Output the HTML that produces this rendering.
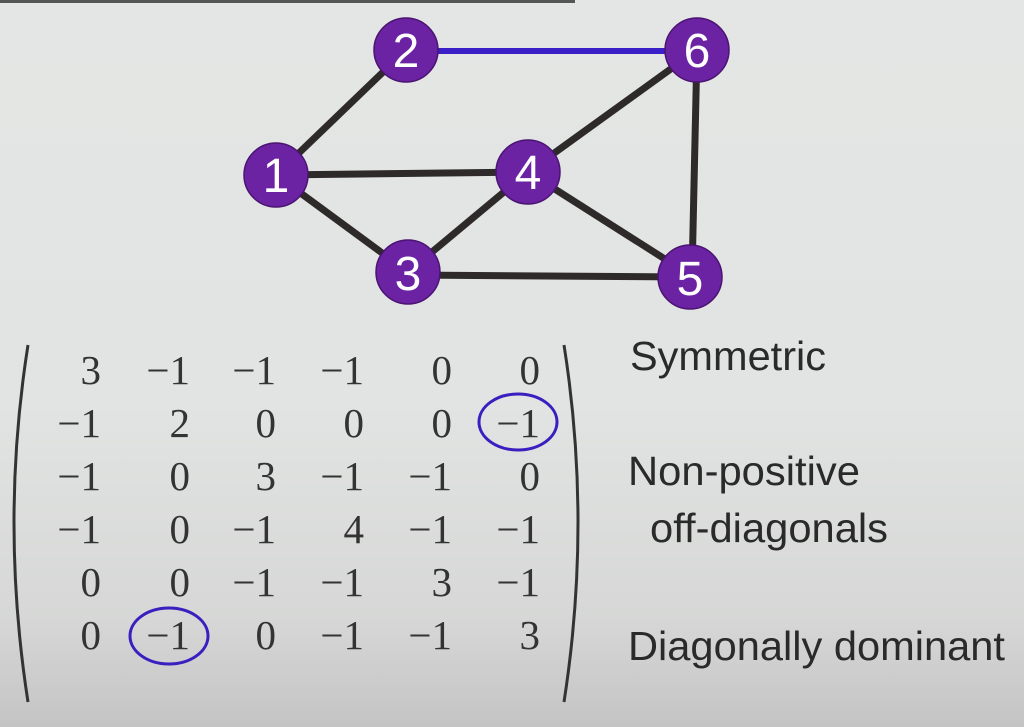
<!DOCTYPE html>
<html><head><style>
body{margin:0;width:1024px;height:727px;overflow:hidden;background:linear-gradient(180deg,#e4e6e5 0%,#e2e4e3 55%,#d6d7d6 85%,#c4c4c4 100%);}
svg{position:absolute;left:0;top:0}
</style></head><body>
<svg width="1024" height="727" viewBox="0 0 1024 727">
<rect x="0" y="0" width="575" height="3" fill="#555"/>
<g stroke="#2e2a2a" stroke-width="7" stroke-linecap="butt">
<line x1="276" y1="175" x2="406" y2="50"/>
<line x1="276" y1="175" x2="528" y2="172"/>
<line x1="276" y1="175" x2="408" y2="272"/>
<line x1="528" y1="172" x2="697" y2="50"/>
<line x1="528" y1="172" x2="408" y2="272"/>
<line x1="528" y1="172" x2="690" y2="275"/>
<line x1="408" y1="275" x2="690" y2="277"/>
<line x1="697" y1="50" x2="692" y2="275"/>
</g>
<line x1="406" y1="51" x2="697" y2="51" stroke="#3a1ec8" stroke-width="6"/>
<g fill="#6b22a3" stroke="#4a1470" stroke-width="1.5">
<circle cx="276" cy="175" r="32"/><circle cx="406" cy="50" r="32"/><circle cx="697" cy="50" r="32"/>
<circle cx="528" cy="172" r="32"/><circle cx="408" cy="272" r="32"/><circle cx="690" cy="277" r="32"/>
</g>
<g fill="#fff" font-family="Liberation Sans, sans-serif" font-size="48" text-anchor="middle">
<text x="276" y="192">1</text><text x="406" y="67">2</text><text x="697" y="67">6</text>
<text x="528" y="189">4</text><text x="408" y="290">3</text><text x="690" y="295">5</text>
</g>
<path d="M28 345 Q0 522 28 702" stroke="#333" stroke-width="3" fill="none"/>
<path d="M564 345 Q592 522 564 702" stroke="#333" stroke-width="3" fill="none"/>
<g font-family="Liberation Serif, serif" font-size="41" fill="#333" text-anchor="end">
<text y="384"><tspan x="101">3</tspan><tspan x="190">−1</tspan><tspan x="276">−1</tspan><tspan x="364">−1</tspan><tspan x="452">0</tspan><tspan x="540">0</tspan></text>
<text y="437"><tspan x="101">−1</tspan><tspan x="190">2</tspan><tspan x="276">0</tspan><tspan x="364">0</tspan><tspan x="452">0</tspan><tspan x="540">−1</tspan></text>
<text y="490"><tspan x="101">−1</tspan><tspan x="190">0</tspan><tspan x="276">3</tspan><tspan x="364">−1</tspan><tspan x="452">−1</tspan><tspan x="540">0</tspan></text>
<text y="543"><tspan x="101">−1</tspan><tspan x="190">0</tspan><tspan x="276">−1</tspan><tspan x="364">4</tspan><tspan x="452">−1</tspan><tspan x="540">−1</tspan></text>
<text y="596"><tspan x="101">0</tspan><tspan x="190">0</tspan><tspan x="276">−1</tspan><tspan x="364">−1</tspan><tspan x="452">3</tspan><tspan x="540">−1</tspan></text>
<text y="649"><tspan x="101">0</tspan><tspan x="190">−1</tspan><tspan x="276">0</tspan><tspan x="364">−1</tspan><tspan x="452">−1</tspan><tspan x="540">3</tspan></text>
</g>
<ellipse cx="518" cy="422" rx="39" ry="28" fill="none" stroke="#3a1ec0" stroke-width="3"/>
<ellipse cx="169" cy="636" rx="39" ry="28" fill="none" stroke="#3a1ec0" stroke-width="3"/>
<g font-family="Liberation Sans, sans-serif" font-size="41" fill="#2a2a2a">
<text x="630" y="370" textLength="196" lengthAdjust="spacingAndGlyphs">Symmetric</text>
<text x="628" y="485" textLength="232" lengthAdjust="spacingAndGlyphs">Non-positive</text>
<text x="650" y="542" textLength="238" lengthAdjust="spacingAndGlyphs">off-diagonals</text>
<text x="628" y="660" textLength="377" lengthAdjust="spacingAndGlyphs">Diagonally dominant</text>
</g>
</svg>
</body></html>
